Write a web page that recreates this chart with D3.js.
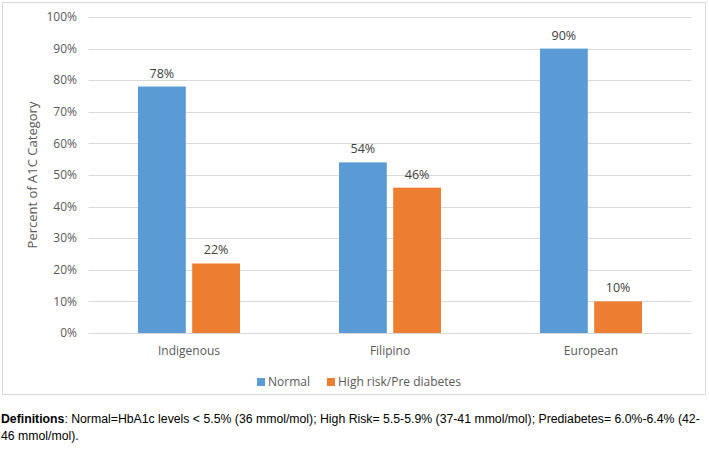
<!DOCTYPE html>
<html><head><meta charset="utf-8">
<script src="https://cdn.jsdelivr.net/npm/d3@7"></script>
<style>body{margin:0;background:#fff}svg{display:block}</style>
</head><body>
<script>
const categories = ["Indigenous", "Filipino", "European"];
const seriesNames = ["Normal", "High risk/Pre diabetes"];
const normal = [78, 54, 90];
const highRisk = [22, 46, 10];
const yTicks = [0, 10, 20, 30, 40, 50, 60, 70, 80, 90, 100];
const colors = ["#5B9BD5", "#ED7D31"];

(function () {
const W = 709, H = 452;
const svg = d3.select("body").append("svg").attr("width", W).attr("height", H);
const font = "'Open Sans', 'Liberation Sans', sans-serif";
const txt = "#595959";

svg.append("rect").attr("x", 2.5).attr("y", 2.5).attr("width", 703).attr("height", 392)
  .attr("fill", "#fff").attr("stroke", "#d9d9d9");

const pL = 88.5, pR = 691.5, pT = 17, pB = 333;
const x = d3.scaleBand().domain(categories).range([pL, pR]).paddingInner(0).paddingOuter(0);
const y = d3.scaleLinear().domain([0, 100]).range([pB, pT]);
const x1 = d3.scaleBand().domain([0, 1]).range([0, 102]).paddingInner(12 / 102).paddingOuter(0);

const g = svg.append("g");
g.selectAll("line.grid").data(yTicks).enter().append("line")
  .attr("x1", pL).attr("x2", pR)
  .attr("y1", d => Math.round(y(d)) + 0.5).attr("y2", d => Math.round(y(d)) + 0.5)
  .attr("stroke", "#d9d9d9").attr("stroke-width", 1);

g.selectAll("text.yt").data(yTicks).enter().append("text")
  .attr("x", 77).attr("y", d => y(d)).attr("dy", "0.35em")
  .attr("text-anchor", "end").attr("font-family", font).attr("font-size", 12)
  .attr("fill", txt).text(d => d + "%");

const series = [normal, highRisk];
series.forEach((vals, si) => {
  const grp = g.append("g");
  grp.selectAll("rect").data(vals).enter().append("rect")
    .attr("x", (d, i) => x(categories[i]) + x.bandwidth() / 2 - 51 + x1(si))
    .attr("width", x1.bandwidth())
    .attr("y", d => y(d)).attr("height", d => y(0) - y(d))
    .attr("fill", colors[si]);
  grp.selectAll("text").data(vals).enter().append("text")
    .attr("x", (d, i) => x(categories[i]) + x.bandwidth() / 2 - 51 + x1(si) + x1.bandwidth() / 2)
    .attr("y", d => y(d) - 9)
    .attr("text-anchor", "middle").attr("font-family", font).attr("font-size", 12.5)
    .attr("fill", "#404040").text(d => d + "%");
});

g.selectAll("text.cat").data(categories).enter().append("text")
  .attr("x", d => x(d) + x.bandwidth() / 2).attr("y", 355)
  .attr("text-anchor", "middle").attr("font-family", font).attr("font-size", 12)
  .attr("fill", txt).text(d => d);

svg.append("text").attr("transform", "translate(37," + ((pT + pB) / 2) + ") rotate(-90)")
  .attr("text-anchor", "middle").attr("font-family", font).attr("font-size", 13)
  .attr("fill", txt).text("Percent of A1C Category");

const legX = [257, 327];
seriesNames.forEach((n, i) => {
  svg.append("rect").attr("x", legX[i]).attr("y", 378).attr("width", 8).attr("height", 8).attr("fill", colors[i]);
  svg.append("text").attr("x", legX[i] + 11).attr("y", 382).attr("dy", "0.35em")
    .attr("font-family", font).attr("font-size", 12).attr("fill", txt).text(n);
});

const fnFont = "'Liberation Sans Narrow', 'Liberation Sans', sans-serif";
const fn = svg.append("text").attr("x", 1).attr("y", 423)
  .attr("font-family", fnFont).attr("font-size", 13).attr("fill", "#000");
fn.append("tspan").attr("font-weight", "bold").text("Definitions");
fn.append("tspan").text(": Normal=HbA1c levels < 5.5% (36 mmol/mol); High Risk= 5.5-5.9% (37-41 mmol/mol); Prediabetes= 6.0%-6.4% (42-");
const w = fn.node().getComputedTextLength();
const fs = Math.min(13, 13 * 700 / w);
fn.attr("font-size", fs);
svg.append("text").attr("x", 1).attr("y", 440)
  .attr("font-family", fnFont).attr("font-size", fs).attr("fill", "#000")
  .text("46 mmol/mol).");
})();
</script>
</body></html>
